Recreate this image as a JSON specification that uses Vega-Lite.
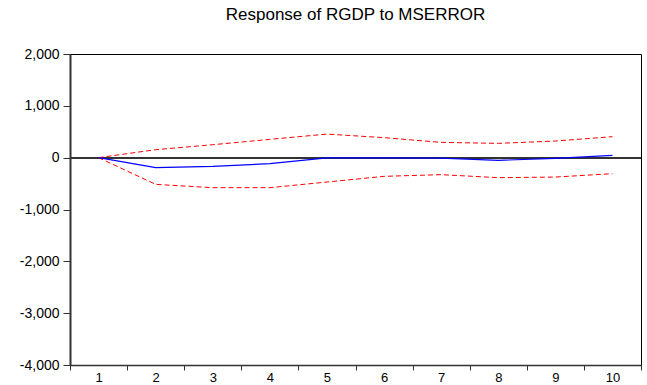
{
  "$schema": "https://vega.github.io/schema/vega-lite/v6.json",
  "width": 571,
  "height": 311,
  "autosize": "none",
  "padding": {"left": 70, "top": 54, "right": 6, "bottom": 20},
  "background": "white",
  "title": {
    "text": "Response of RGDP to MSERROR",
    "font": "Liberation Sans",
    "fontSize": 17,
    "fontWeight": "normal",
    "color": "#000000",
    "anchor": "middle",
    "offset": 23
  },
  "config": {
    "view": {"stroke": "#000000", "strokeWidth": 1},
    "axis": {
      "labelFont": "Liberation Sans",
      "labelFontSize": 14,
      "labelColor": "#000000",
      "domainColor": "#333333",
      "tickColor": "#333333",
      "grid": false,
      "title": null
    }
  },
  "data": {
    "values": [
      {"step": 1, "resp": 0, "lower": 0, "upper": 0},
      {"step": 2, "resp": -193, "lower": -515, "upper": 154},
      {"step": 3, "resp": -168, "lower": -579, "upper": 250},
      {"step": 4, "resp": -116, "lower": -579, "upper": 353},
      {"step": 5, "resp": -5, "lower": -470, "upper": 455},
      {"step": 6, "resp": -3, "lower": -360, "upper": 386},
      {"step": 7, "resp": -10, "lower": -328, "upper": 295},
      {"step": 8, "resp": -52, "lower": -386, "upper": 276},
      {"step": 9, "resp": -13, "lower": -374, "upper": 321},
      {"step": 10, "resp": 44, "lower": -309, "upper": 405}
    ]
  },
  "encoding": {
    "x": {
      "field": "step",
      "type": "ordinal",
      "bandPosition": 0.5,
      "scale": {"type": "band", "paddingInner": 0, "paddingOuter": 0},
      "axis": {"tickBand": "extent", "labelAngle": 0, "tickSize": 5, "domainWidth": 1.5, "labelPadding": 1, "labelFontSize": 13}
    }
  },
  "resolve": {"scale": {"y": "shared"}, "axis": {"y": "shared"}},
  "layer": [
    {
      "mark": {"type": "rule", "color": "#333333", "strokeWidth": 1.5},
      "encoding": {
        "x": null,
        "y": {
          "datum": 0,
          "type": "quantitative",
          "scale": {"domain": [-4000, 2000], "nice": false, "zero": false},
          "axis": {
            "values": [-4000, -3000, -2000, -1000, 0, 1000, 2000],
            "labelExpr": "replace(format(datum.value, ','), '\u2212', '-')",
            "tickSize": 7,
            "domainWidth": 2,
            "labelPadding": 4
          }
        }
      }
    },
    {
      "mark": {"type": "line", "color": "#ff0000", "strokeWidth": 1, "strokeDash": [5, 3]},
      "encoding": {"y": {"field": "upper", "type": "quantitative"}}
    },
    {
      "mark": {"type": "line", "color": "#ff0000", "strokeWidth": 1, "strokeDash": [5, 3]},
      "encoding": {"y": {"field": "lower", "type": "quantitative"}}
    },
    {
      "mark": {"type": "line", "color": "#0000ff", "strokeWidth": 1.2},
      "encoding": {"y": {"field": "resp", "type": "quantitative"}}
    }
  ]
}
